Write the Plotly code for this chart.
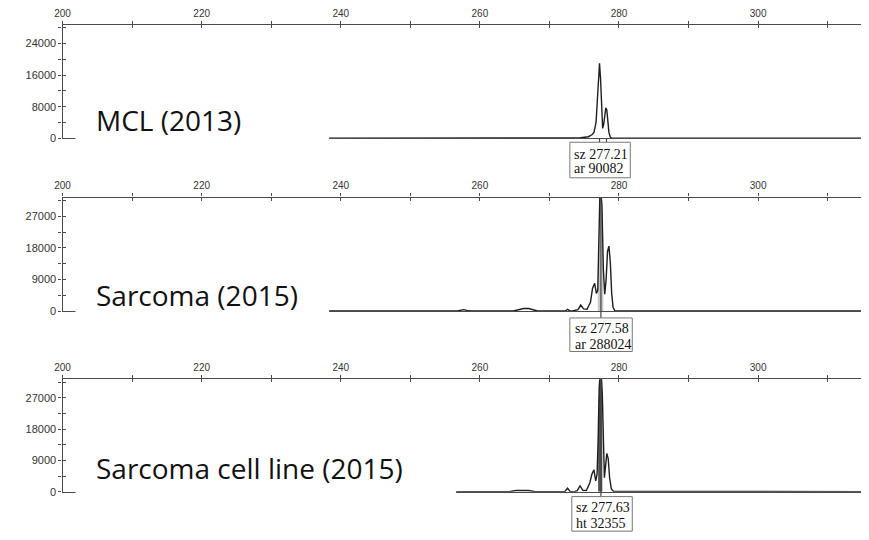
import plotly.graph_objects as go

# ---------------- data ----------------
# Panel 1: MCL (2013)
size_mcl = [238.3, 265.0, 272.0, 274.5, 275.6, 276.1, 276.4, 276.7, 276.9, 277.05, 277.2,
            277.35, 277.5, 277.65, 277.8, 277.95, 278.1, 278.25, 278.4, 278.55, 278.75, 279.0, 315.1]
rfu_mcl = [0, 0, 50, 150, 400, 900, 1500, 4000, 10000, 16500, 19000,
           15000, 6500, 2500, 3500, 6500, 7700, 7200, 4500, 1500, 300, 0, 0]

# Panel 2: Sarcoma (2015)
size_sarc = [238.3, 256.8, 257.3, 257.7, 258.1, 258.7, 264.8, 265.5, 266.3, 267.0, 267.6, 268.3,
             272.3, 272.6, 272.9, 273.3, 274.1, 274.5, 274.9, 275.4, 275.9, 276.2, 276.5, 276.75,
             276.95, 277.1, 277.25, 277.4, 277.55, 277.75, 277.95, 278.15, 278.35, 278.55, 278.75,
             278.95, 279.15, 279.4, 315.1]
rfu_sarc = [0, 0, 250, 400, 200, 0, 0, 400, 700, 700, 400, 0,
            0, 500, 100, 0, 400, 1700, 600, 500, 2500, 6500, 7900, 5000,
            6000, 20000, 33000, 34000, 30000, 12000, 4800, 9000, 17000, 18500, 14000,
            5000, 1000, 100, 0]

# Panel 3: Sarcoma cell line (2015)
size_cell = [256.6, 264.2, 265.2, 266.1, 267.0, 268.0, 272.2, 272.6, 273.0, 273.6, 274.0, 274.4,
             274.8, 275.3, 275.8, 276.1, 276.4, 276.65, 276.85, 277.0, 277.15, 277.3, 277.45,
             277.6, 277.75, 277.9, 278.05, 278.25, 278.45, 278.65, 278.9, 279.2, 315.1]
rfu_cell = [0, 0, 350, 450, 350, 0, 0, 1000, 0, 0, 300, 1700,
            400, 300, 2500, 5000, 6300, 3100, 5000, 15000, 30000, 34000, 34000,
            28000, 10000, 4000, 7000, 11000, 9500, 4000, 800, 100, 0]

sample_names = ["MCL (2013)", "Sarcoma (2015)", "Sarcoma cell line (2015)"]
peak_size_labels = ["sz 277.21", "sz 277.58", "sz 277.63"]
peak_value_labels = ["ar 90082", "ar 288024", "ht 32355"]
peak_marks = [[277.2, 278.2], [277.4], [277.4]]              # marked peak positions (axis units)
main_peak_window = [None, (276.95, 277.75), (277.0, 277.6)]  # shaded main peak region
y_max = [28750, 32350, 32380]
y_step = [4000, 4500, 4500]
y_label_step = [8000, 9000, 9000]
x_ticks = list(range(200, 320, 10))

series = [(size_mcl, rfu_mcl), (size_sarc, rfu_sarc), (size_cell, rfu_cell)]

# ---------------- layout geometry (reference pixel coordinates) ----------------
W, H = 869, 540
OFF = 8  # page body margin of the exported html
def px(xp):
    return (xp - OFF) / W
def py(yp):
    return 1 - (yp - OFF) / H

panel_px = [(24, 139), (199, 314), (383, 497)]   # top, bottom
xdom = [px(55), px(863)]
x_range = [200, 315.1]
cover_px = [(68, 324, 96, 152), (68, 324, 272, 326), (68, 452, 452, 505)]
box_px = [(567, 628, 143, 179), (567, 630, 321, 355), (569, 630, 502, 537)]
box_text_px = [(570, 155, 170), (571, 332, 348), (572, 513, 529)]
name_y_px = [120, 298, 473]

axis_col = "#4a4a4a"
xtick_font = dict(family="Liberation Sans, Arial", size=10, color="#333333")
ytick_font = dict(family="Liberation Sans, Arial", size=11, color="#333333")
box_font = dict(family="Liberation Serif, Times New Roman", size=14, color="#111111")

fig = go.Figure()
layout = dict(width=W, height=H, margin=dict(l=0, r=0, t=0, b=0),
              paper_bgcolor="white", plot_bgcolor="white", showlegend=False)
shapes, annotations = [], []

line_style = dict(showline=True, linecolor=axis_col, linewidth=1.3, mirror=True,
                  tickcolor=axis_col, tickwidth=1.2, ticklen=3,
                  showgrid=False, zeroline=False, fixedrange=True)

for i, (xs, ys) in enumerate(series):
    n = i + 1
    tw = i + 4
    xa, ya = f"x{'' if n == 1 else n}", f"y{'' if n == 1 else n}"
    xt, yt = f"x{tw}", f"y{tw}"
    top, bot = panel_px[i]
    ydom = [py(bot), py(top)]

    # shaded main peak
    win = main_peak_window[i]
    if win is not None:
        fx = [x for x in xs if win[0] <= x <= win[1]]
        fy = [y for x, y in zip(xs, ys) if win[0] <= x <= win[1]]
        fig.add_trace(go.Scatter(x=fx, y=fy, mode="lines", fill="tozeroy",
                                 fillcolor="#c8c8c8" if i == 1 else "#505050",
                                 line=dict(width=0), xaxis=xa, yaxis=ya, hoverinfo="skip"))
    fig.add_trace(go.Scatter(x=xs, y=ys, mode="lines",
                             line=dict(color="#1e1e1e", width=1.4),
                             xaxis=xa, yaxis=ya, hoverinfo="skip"))
    # dummy trace for twin axes (crossing ticks)
    fig.add_trace(go.Scatter(x=[200], y=[0], mode="lines", xaxis=xt, yaxis=yt,
                             hoverinfo="skip", line=dict(width=0)))

    yvals = list(range(0, int(y_max[i]), y_step[i]))
    ytext = [f"{v}" if v % y_label_step[i] == 0 else "" for v in yvals]
    xtext = [f"{v}" if v % 20 == 0 else "" for v in x_ticks]

    layout["xaxis" + ("" if n == 1 else str(n))] = dict(
        domain=xdom, anchor=ya, range=x_range, side="top", ticks="outside",
        tickvals=x_ticks, ticktext=xtext, tickfont=xtick_font, **line_style)
    layout["yaxis" + ("" if n == 1 else str(n))] = dict(
        domain=ydom, anchor=xa, range=[0, y_max[i]], ticks="outside",
        tickvals=yvals, ticktext=ytext, tickfont=ytick_font, **line_style)
    layout[f"xaxis{tw}"] = dict(
        overlaying=xa, anchor=yt, range=x_range, side="top", ticks="inside",
        tickvals=x_ticks, showticklabels=False, **line_style)
    layout[f"yaxis{tw}"] = dict(
        overlaying=ya, anchor=xt, range=[0, y_max[i]], side="left", ticks="inside",
        tickvals=yvals, showticklabels=False, **line_style)

    # white cover with sample name
    x0, x1, y0, y1 = cover_px[i]
    shapes.append(dict(type="rect", xref="paper", yref="paper", x0=px(x0), x1=px(x1),
                       y0=py(y1), y1=py(y0), fillcolor="white", line=dict(width=0),
                       layer="above"))
    annotations.append(dict(text=sample_names[i], xref="paper", yref="paper",
                            x=px(87), y=py(name_y_px[i]), xanchor="left", yanchor="middle",
                            showarrow=False,
                            font=dict(family="Open Sans", size=28, color="#111111")))

    # peak marker lines
    bx0, bx1, by0, by1 = box_px[i]
    for m in peak_marks[i]:
        y_end = bot if i == 0 else top
        shapes.append(dict(type="line", xref=xa, yref="paper", x0=m, x1=m,
                           y0=py(by0), y1=py(y_end), line=dict(color="#444444", width=1.2),
                           layer="above"))
    # peak label box
    shapes.append(dict(type="rect", xref="paper", yref="paper", x0=px(bx0), x1=px(bx1),
                       y0=py(by1), y1=py(by0), fillcolor="white",
                       line=dict(color="#777777", width=1), layer="above"))
    tx, ty1, ty2 = box_text_px[i]
    for txt, ty in ((peak_size_labels[i], ty1), (peak_value_labels[i], ty2)):
        annotations.append(dict(text=txt, xref="paper", yref="paper", x=px(tx), y=py(ty),
                                xanchor="left", yanchor="middle", showarrow=False,
                                borderpad=0, font=box_font))

layout["shapes"] = shapes
layout["annotations"] = annotations
fig.update_layout(**layout)
fig.write_html("out.html", config={"displayModeBar": False})
